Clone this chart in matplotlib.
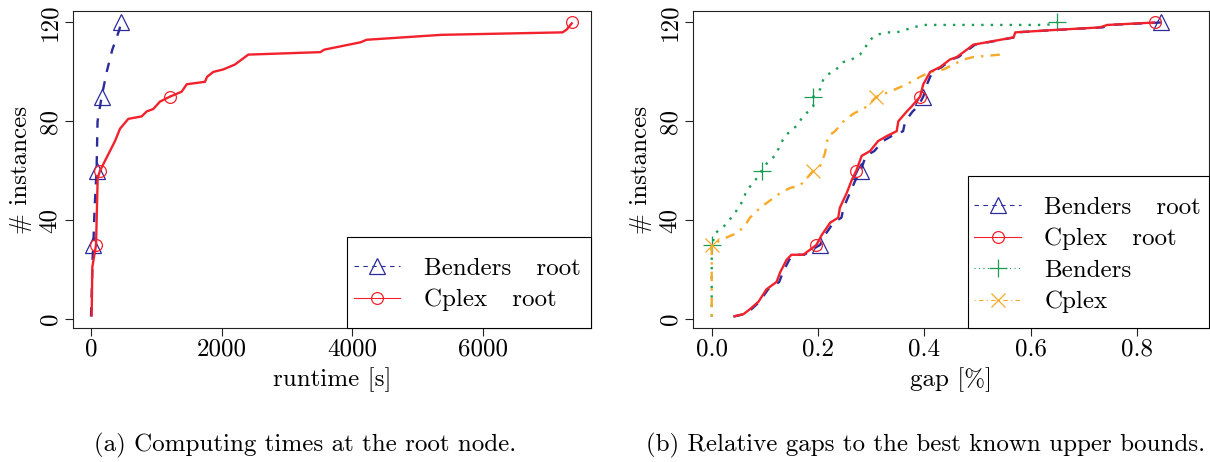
import matplotlib
matplotlib.use("Agg")
import matplotlib.pyplot as plt
from matplotlib.lines import Line2D
from matplotlib.patches import Rectangle

plt.rcParams['font.family'] = ['cmr10', 'DejaVu Serif']
plt.rcParams['font.size'] = 18

# (a) runtime at the root node: sorted runtimes [s] and number of instances
root_bend_t = [0, 10, 25, 36, 55, 85, 100, 163, 240, 326, 433, 459]
root_bend_n = [1, 10, 25, 30, 45, 60, 80, 90, 100, 109, 117, 120]
root_cplex_t = [10, 20, 77, 102, 138, 214, 367, 444, 571, 776, 852, 954, 1056, 1209,
                1388, 1465, 1745, 1776, 1872, 2025, 2204, 2306, 2408, 3512, 3570,
                4129, 4218, 5365, 7218, 7276, 7370]
root_cplex_n = [1, 21, 30, 57, 60, 64, 72, 77, 81, 82, 84, 85, 88, 90,
                92, 95, 96, 98, 100, 101, 103, 105, 107, 108, 109,
                112, 113, 115, 116, 117, 120]

# (b) relative gaps [%] and number of instances
gap_root_bend = [0.041, 0.062, 0.075, 0.09, 0.106, 0.127, 0.134, 0.146, 0.155, 0.174,
                 0.196, 0.204, 0.213, 0.229, 0.244, 0.248, 0.26, 0.27, 0.28, 0.29,
                 0.306, 0.322, 0.338, 0.36, 0.364, 0.378, 0.388, 0.398, 0.405, 0.415,
                 0.433, 0.45, 0.464, 0.483, 0.495, 0.545, 0.57, 0.573, 0.65, 0.735,
                 0.748, 0.845]
gap_root_cplex = [0.041, 0.06, 0.072, 0.088, 0.103, 0.122, 0.129, 0.141, 0.15, 0.172,
                  0.191, 0.197, 0.207, 0.223, 0.238, 0.241, 0.254, 0.263, 0.272, 0.282,
                  0.298, 0.313, 0.329, 0.348, 0.351, 0.367, 0.376, 0.392, 0.398, 0.411,
                  0.43, 0.448, 0.461, 0.48, 0.492, 0.543, 0.568, 0.571, 0.647, 0.73,
                  0.744, 0.834]
gap_root_n = [1, 2, 4, 7, 12, 15, 19, 24, 26, 26, 29, 30, 34, 39, 41, 45, 51, 56, 60, 66,
              68, 72, 74, 76, 80, 84, 86, 90, 95, 100, 102, 105, 106, 109, 111, 113, 114,
              116, 117, 118, 119, 120]
gap_bend = [0, 0, 0.008, 0.021, 0.033, 0.044, 0.056, 0.066, 0.085, 0.094, 0.107, 0.119,
            0.135, 0.147, 0.159, 0.172, 0.191, 0.191, 0.204, 0.21, 0.219, 0.234, 0.248,
            0.263, 0.279, 0.289, 0.298, 0.31, 0.329, 0.348, 0.364, 0.379, 0.398, 0.63, 0.65]
gap_bend_n = [1, 30, 35, 37, 40, 43, 47, 52, 57, 60, 64, 66, 73, 76, 78, 82, 86, 90, 93,
              97, 99, 101, 104, 105, 107, 110, 113, 115, 116, 116, 117, 118, 119, 119, 120]
gap_cplex = [0, 0, 0.009, 0.028, 0.05, 0.066, 0.072, 0.091, 0.11, 0.129, 0.147, 0.166,
             0.179, 0.191, 0.204, 0.213, 0.219, 0.232, 0.248, 0.266, 0.292, 0.31, 0.335,
             0.367, 0.392, 0.411, 0.436, 0.455, 0.473, 0.492, 0.543]
gap_cplex_n = [1, 30, 31, 33, 35, 39, 41, 45, 48, 51, 53, 54, 57, 60, 62, 67, 74, 76, 80,
               83, 86, 90, 92, 95, 98, 100, 101, 103, 105, 106, 107]

BLUE = '#2B2B9C'
RED = '#F2222C'
GREEN = '#1A9E55'
ORANGE = '#F7A928'

styles = {
    'Benders   root': dict(color=BLUE, ls=(0, (4, 4)), marker='^', ms=11),
    'Cplex   root': dict(color=RED, ls='-', marker='o', ms=8.5),
    'Benders': dict(color=GREEN, ls=(0, (1, 3)), marker='+', ms=13),
    'Cplex': dict(color=ORANGE, ls=(0, (1, 3, 4, 3)), marker='x', ms=10),
}


def marks(n):
    return [i for i, v in enumerate(n) if v in (30, 60, 90, 120)]


def draw(ax, x, n, name):
    st = styles[name]
    ax.plot(x, n, color=st['color'], ls=st['ls'], lw=1.7, marker=st['marker'],
            ms=st['ms'], mfc='none', mec=st['color'], mew=0.9, markevery=marks(n),
            solid_capstyle='butt', dash_capstyle='butt')


def legend(ax, names, x0, top):
    # frame like R's legend box, anchored at the bottom right corner of the plot
    ax.add_patch(Rectangle((x0, 0), 1 - x0, top, transform=ax.transAxes,
                           facecolor='white', edgecolor='black', lw=0.8,
                           zorder=4.5, clip_on=False))
    handles = [Line2D([], [], color=styles[k]['color'], ls=styles[k]['ls'], lw=0.8,
                      marker=styles[k]['marker'], ms=styles[k]['ms'], mfc='none',
                      mew=0.9) for k in names]
    h = ax.get_position().height * 462
    ax.legend(handles, names, loc='upper left', bbox_to_anchor=(x0, top - 13.9 / h),
              borderaxespad=0, frameon=False, handlelength=1.85, handletextpad=0.95,
              borderpad=0.27, labelspacing=0.36, fontsize=18)


def style(ax, xticks, xlabels, xlabel):
    ax.set_ylim(-3.76, 124.76)
    ax.set_yticks([0, 40, 80, 120], labels=['0', '40', '80', '120'])
    ax.set_xticks(xticks, labels=xlabels)
    ax.tick_params(direction='out', length=5.8, width=0.8, color='#222222', labelsize=18)
    ax.tick_params(axis='x', pad=1.5)
    ax.tick_params(axis='y', pad=2.5)
    for t in ax.get_yticklabels():
        t.set_rotation(90)
        t.set_va('center')
    for s in ax.spines.values():
        s.set_linewidth(0.8)
        s.set_color('#222222')
    ax.set_xlabel(xlabel, fontsize=18, va='center')
    ax.set_ylabel('# instances', fontsize=18, va='center')
    ax.xaxis.set_label_coords(0.5, -0.163)
    w = ax.get_position().width * 1210
    ax.yaxis.set_label_coords(-52.0 / w, 0.5)


fig = plt.figure(figsize=(12.1, 4.62), dpi=100)
ax1 = fig.add_axes([0.0601, 0.2894, 0.4283, 0.6874])
ax2 = fig.add_axes([0.5725, 0.2894, 0.4269, 0.6874])

draw(ax1, root_bend_t, root_bend_n, 'Benders   root')
draw(ax1, root_cplex_t, root_cplex_n, 'Cplex   root')
ax1.set_xlim(-280, 7653)
style(ax1, [0, 2000, 4000, 6000], ['0', '2000', '4000', '6000'], 'runtime [s]')
legend(ax1, ['Benders   root', 'Cplex   root'], 0.5298, 0.2884)

draw(ax2, gap_bend, gap_bend_n, 'Benders')
draw(ax2, gap_cplex, gap_cplex_n, 'Cplex')
draw(ax2, gap_root_bend, gap_root_n, 'Benders   root')
draw(ax2, gap_root_cplex, gap_root_n, 'Cplex   root')
ax2.set_xlim(-0.0357, 0.936)
style(ax2, [0.0, 0.2, 0.4, 0.6, 0.8], ['0.0', '0.2', '0.4', '0.6', '0.8'], 'gap [%]')
legend(ax2, ['Benders   root', 'Cplex   root', 'Benders', 'Cplex'], 0.5323, 0.4805)

fig.text(305 / 1210, 1 - 445 / 462, '(a) Computing times at the root node.',
         ha='center', va='center', fontsize=18)
fig.text(926 / 1210, 1 - 445 / 462, '(b) Relative gaps to the best known upper bounds.',
         ha='center', va='center', fontsize=18)

fig.savefig('out.png', dpi=100)
